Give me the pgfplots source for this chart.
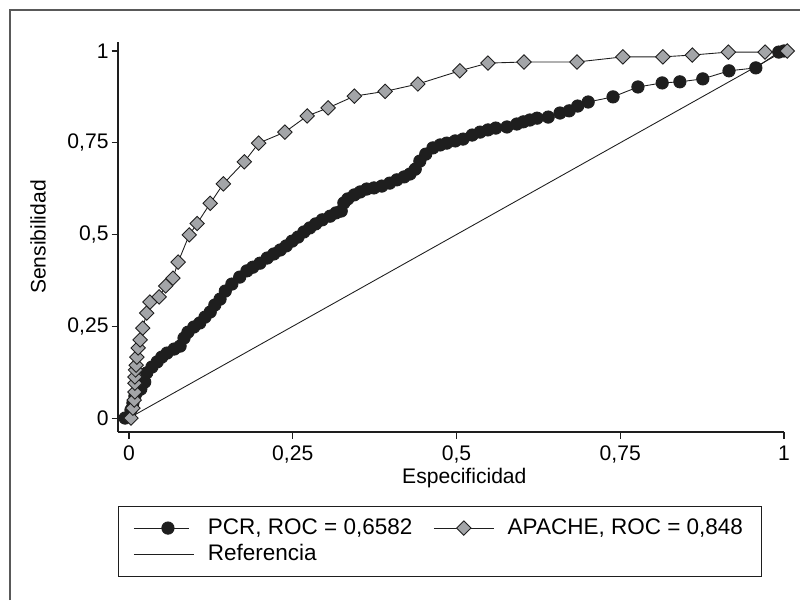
\documentclass[12pt,border=0pt]{standalone}
\usepackage{pgfplots}
\pgfplotsset{compat=1.18}
\usepackage{pgfplotstable}
\usepackage{fontspec}
\setmainfont{Liberation Sans}

\definecolor{ink}{RGB}{30,30,30}
\definecolor{diam}{RGB}{163,165,168}

% PCR (1 - especificidad, sensibilidad)
\pgfplotstableread{
x y
-0.006 0
0.003 0.022
0.006 0.041
0.009 0.060
0.012 0.071
0.018 0.079
0.024 0.098
0.027 0.123
0.035 0.139
0.043 0.153
0.050 0.166
0.058 0.177
0.069 0.188
0.078 0.196
0.084 0.218
0.090 0.234
0.099 0.248
0.108 0.259
0.116 0.275
0.124 0.289
0.131 0.308
0.139 0.324
0.147 0.346
0.157 0.365
0.169 0.384
0.180 0.401
0.189 0.411
0.200 0.422
0.211 0.436
0.221 0.447
0.231 0.458
0.240 0.469
0.249 0.482
0.258 0.493
0.267 0.507
0.276 0.518
0.285 0.529
0.295 0.540
0.307 0.550
0.316 0.559
0.324 0.564
0.328 0.586
0.334 0.597
0.344 0.608
0.353 0.616
0.363 0.624
0.374 0.627
0.386 0.632
0.398 0.640
0.409 0.649
0.420 0.657
0.429 0.665
0.437 0.678
0.444 0.700
0.453 0.719
0.464 0.736
0.475 0.744
0.485 0.749
0.498 0.755
0.510 0.760
0.524 0.771
0.536 0.779
0.548 0.785
0.560 0.790
0.577 0.793
0.592 0.801
0.602 0.807
0.612 0.812
0.623 0.817
0.640 0.820
0.658 0.831
0.672 0.837
0.685 0.850
0.701 0.861
0.739 0.875
0.777 0.902
0.814 0.913
0.841 0.916
0.876 0.924
0.916 0.946
0.957 0.954
0.992 0.997
1 1
}\pcr

% APACHE
\pgfplotstableread{
x y
0.003 0.000
0.006 0.027
0.008 0.049
0.009 0.071
0.009 0.095
0.009 0.112
0.010 0.131
0.011 0.144
0.012 0.166
0.014 0.191
0.017 0.213
0.021 0.245
0.027 0.286
0.032 0.316
0.046 0.330
0.056 0.360
0.067 0.381
0.075 0.425
0.092 0.499
0.104 0.530
0.124 0.585
0.144 0.638
0.176 0.698
0.198 0.749
0.238 0.779
0.272 0.823
0.304 0.845
0.344 0.877
0.391 0.890
0.441 0.910
0.505 0.946
0.548 0.967
0.603 0.970
0.684 0.970
0.754 0.984
0.815 0.984
0.860 0.989
0.915 0.997
0.971 0.997
1.005 1.000
}\apache

\begin{document}
\begin{tikzpicture}
\useasboundingbox (0,0) rectangle (16,12);
\draw[gray!70!black, line width=0.9pt] (0.2,0) -- (0.2,11.8) -- (16,11.8);
\begin{axis}[
    at={(2.36cm,3.36cm)}, anchor=south west,
    scale only axis, width=13.32cm, height=7.8cm,
    xmin=-0.0168, xmax=1, ymin=-0.038, ymax=1.0245,
    axis x line*=bottom, axis y line*=left,
    axis line style={-, ink, line width=0.6pt},
    xtick={0,0.25,0.5,0.75,1}, ytick={0,0.25,0.5,0.75,1},
    xticklabels={0,{0,25},{0,5},{0,75},1},
    yticklabels={0,{0,25},{0,5},{0,75},1},
    yticklabel style={inner xsep=1.5pt},
    tick align=outside, major tick length=0.13cm,
    tick style={ink, line width=0.6pt},
    xlabel={Especificidad}, ylabel={Sensibilidad},
    xlabel style={at={(axis description cs:0.52,-0.118)}, anchor=center},
    ylabel style={at={(axis description cs:-0.12,0.5)}, anchor=center},
    clip=false,
    legend columns=2,
    legend cell align=left,
    legend style={at={(0,-0.19)}, anchor=north west, draw=ink, line width=0.6pt,
        font=\fontsize{12.8}{15.5}\selectfont,
        inner xsep=0.3cm, inner ysep=0.17cm,
        /tikz/every odd column/.append style={column sep=0.2cm},
        /tikz/every even column/.append style={column sep=0.35cm}},
    legend image code/.code={\draw[mark repeat=2,mark phase=2] plot coordinates {(0cm,0cm) (0.6cm,0cm) (1.2cm,0cm)};},
]
\addplot[ink, line width=0.5pt, mark=*, mark size=3.5pt,
    mark options={fill=ink, draw=ink},
    legend image code/.code={\draw[mark repeat=2,mark phase=2] plot coordinates {(0cm,0cm) (0.68cm,0cm) (1.1cm,0cm)};}]
    table {\pcr};
\addlegendentry{PCR, ROC = 0,6582}
\addplot[ink, line width=0.5pt, mark=square*, mark size=2.9pt,
    mark options={rotate=45, fill=diam, draw=ink, line width=0.5pt}] table {\apache};
\addlegendentry{APACHE, ROC = 0,848}
\addplot[ink, line width=0.5pt, mark=none] coordinates {(0,0) (1,1)};
\addlegendentry{Referencia}
\end{axis}
\end{tikzpicture}
\end{document}
